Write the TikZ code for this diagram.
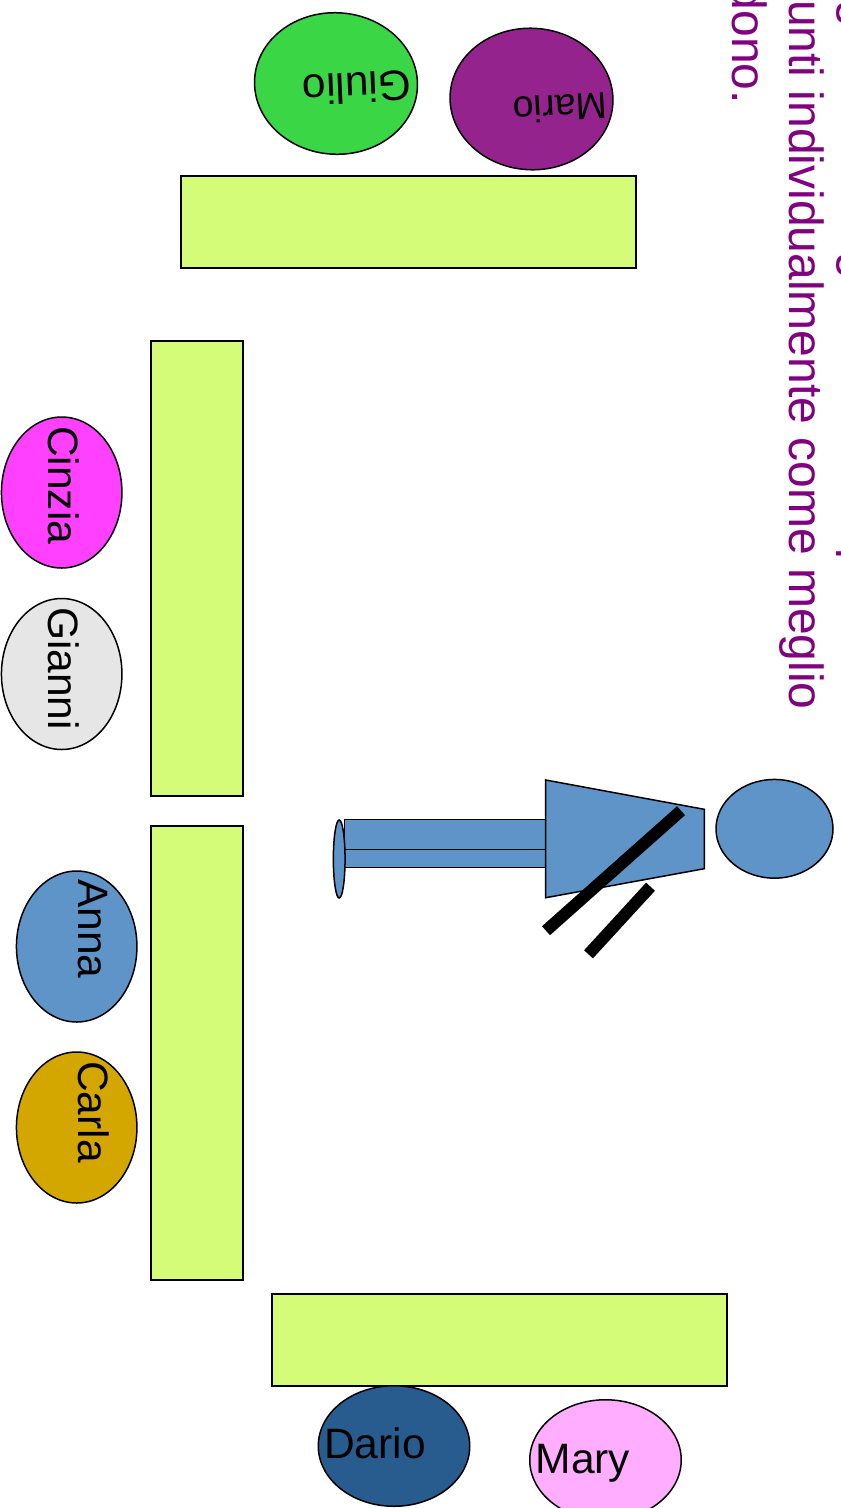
\documentclass[tikz,border=0pt]{standalone}
\usetikzlibrary{shapes.geometric}
\usepackage{fontspec}
\setsansfont{Liberation Sans}
\definecolor{deskgreen}{HTML}{D5FC79}
\definecolor{bodyblue}{HTML}{5E94C8}
\definecolor{inkpurple}{HTML}{800080}
\definecolor{giuliogreen}{HTML}{3BD645}
\definecolor{mariopurple}{HTML}{94238E}
\definecolor{cinziapink}{HTML}{FF40FF}
\definecolor{giannigrey}{HTML}{E6E6E6}
\definecolor{carlagold}{HTML}{D4A600}
\definecolor{darioblue}{HTML}{285C8F}
\definecolor{marypink}{HTML}{FFADFF}
\tikzset{
	desk/.style={draw=black, fill=deskgreen, line width=1.5pt, inner sep=0pt, outer sep=0pt},
	guest/.style={ellipse, draw=black, line width=1.5pt, inner sep=0pt, outer sep=0pt},
	guestname/.style={font=\sffamily\fontsize{42.5}{42.5}\selectfont, inner sep=0pt, anchor=base west},
	notetext/.style={font=\sffamily\fontsize{48}{48}\selectfont, text=inkpurple, inner sep=0pt, rotate=-90},
	figureline/.style={draw=black, fill=bodyblue, line width=1.5pt},
}
\begin{document}
\begin{tikzpicture}[
		x=1pt, y=-1pt,
		every node/.style={
				font=\sffamily,
			},]
	\useasboundingbox (0,0) rectangle (841,1508);
	% desks
	\foreach \deskname/\x/\y/\w/\h in {top/408.5/222/455/92, leftup/197/568.5/92/455, leftdown/197/1053/92/454, bottom/499.5/1340/455/92} {
			\node[desk, minimum width=\w pt, minimum height=\h pt] (\deskname) at (\x,\y) {};
		}
	% guests
	\foreach \who/\x/\y/\col in {cinzia/61.7/492.5/cinziapink, gianni/61.7/674/giannigrey, anna/76.7/946.5/bodyblue, carla/76.7/1127.5/carlagold} {
			\node[guest, fill=\col, minimum width=120.5pt, minimum height=151pt] (\who) at (\x,\y) {};
		}
	\foreach \who/\x/\y/\col in {dario/394/1446/darioblue, mary/605.5/1460/marypink} {
			\node[guest, fill=\col, minimum width=151.5pt, minimum height=120.5pt] (\who) at (\x,\y) {};
		}
	\foreach \who/\x/\y/\col in {giulio/336/83.5/giuliogreen, mario/531.5/99/mariopurple} {
			\node[guest, fill=\col, rotate=-3, minimum width=163pt, minimum height=141.5pt] (\who) at (\x,\y) {};
		}
	% names
	\node[guestname, rotate=182.5] (giuliotext) at (411,70.5) {Giulio};
	\node[guestname, rotate=183, font=\sffamily\fontsize{37.5}{37.5}\selectfont] (mariotext) at (606.5,92.5) {Mario};
	\node[guestname, rotate=-90] (cinziatext) at (48.5,426) {Cinzia};
	\node[guestname, rotate=-90] (giannitext) at (48.5,607) {Gianni};
	\node[guestname, rotate=-90] (annatext) at (78.5,879) {Anna};
	\node[guestname, rotate=-90] (carlatext) at (78.5,1061) {Carla};
	\node[guestname] (dariotext) at (324,1458) {Dario};
	\node[guestname] (marytext) at (535.5,1473) {Mary};
	% figure
	\draw[figureline] (344.5,819.3) rectangle (546,849.3);
	\draw[figureline] (344.5,849.3) rectangle (546,867.7);
	\node[guest, fill=bodyblue, minimum width=11.7pt, minimum height=78pt] (foot) at (339.2,859) {};
	\draw[figureline] (545.7,780) -- (704.3,809.3) -- (704.3,868.7) -- (545.7,897.7) -- cycle;
	\node[guest, fill=bodyblue, minimum width=117pt, minimum height=98.7pt] (head) at (774.5,828.8) {};
	\draw[line width=12pt] (681,810.7) -- (546,930.7);
	\draw[line width=12pt] (650.5,886.7) -- (588.5,954.3);
	% purple text, running off the page
	\node[notetext, anchor=base east] (noteline) at (789,710) {unti individualmente come meglio};
	\node[notetext, anchor=base east] (notelast) at (732,104) {dono.};
	\foreach \cutname/\glyph/\y in {cuta/g/14,cutb/g/266,cutc/p/562} {
			\node[notetext, anchor=base] (\cutname) at (846,\y) {\glyph};
		}
\end{tikzpicture}
\end{document}
